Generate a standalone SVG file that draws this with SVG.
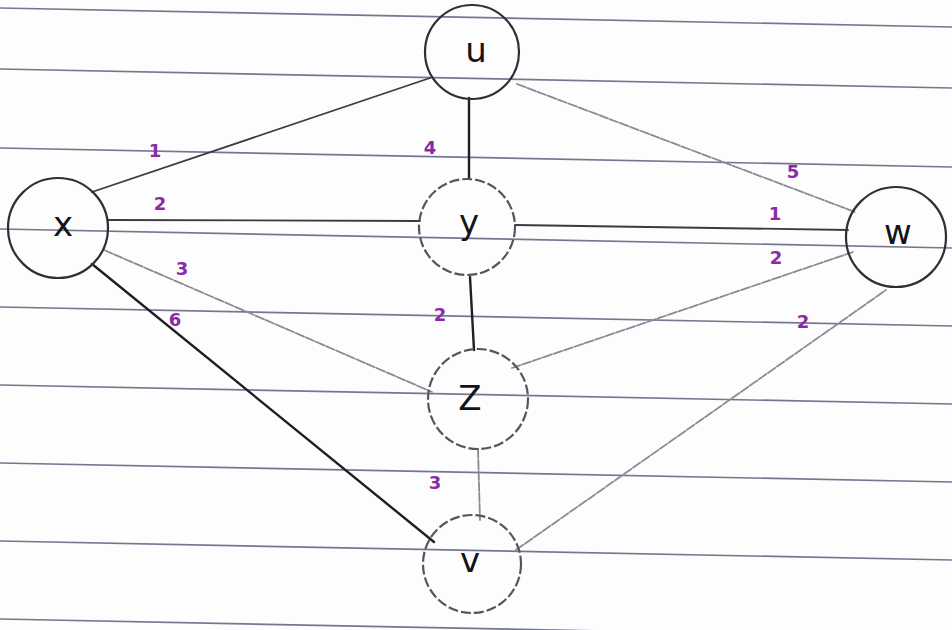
<svg xmlns="http://www.w3.org/2000/svg" width="952" height="630" viewBox="0 0 952 630">
<style>
.rule{stroke:#4b4a6e;stroke-width:1.7;opacity:0.75}
.e{fill:none;stroke-linecap:round}
.dark{stroke:#1e1e24;stroke-width:2.4}
.mid{stroke:#3a3a44;stroke-width:1.8}
.light{stroke:#8a8a94;stroke-width:1.8;stroke-dasharray:9 2}
.node circle{fill:none;stroke:#2e2e36;stroke-width:2.2}
.node.faint circle{stroke:#55555e;stroke-dasharray:10 3}
.node text{font-family:"DejaVu Sans","Liberation Sans",sans-serif;font-size:34px;fill:#141418;text-anchor:middle;dominant-baseline:central}
.lbl{font-family:"DejaVu Sans","Liberation Sans",sans-serif;font-size:18px;font-weight:bold;fill:#8a2aa8;text-anchor:middle;dominant-baseline:central}
</style>
<rect width="952" height="630" fill="#fdfdfd"/>
<g id="ruled-paper">
<line class="rule" x1="0" y1="8" x2="952" y2="27"/>
<line class="rule" x1="0" y1="69" x2="952" y2="88"/>
<line class="rule" x1="0" y1="148" x2="952" y2="167"/>
<line class="rule" x1="0" y1="229" x2="952" y2="248"/>
<line class="rule" x1="0" y1="307" x2="952" y2="326"/>
<line class="rule" x1="0" y1="385" x2="952" y2="404"/>
<line class="rule" x1="0" y1="463" x2="952" y2="482"/>
<line class="rule" x1="0" y1="541" x2="952" y2="560"/>
<line class="rule" x1="0" y1="619" x2="952" y2="638"/>
</g>
<g id="connectors">
<line class="e mid" x1="92" y1="192" x2="430" y2="78"/>
<line class="e mid" x1="108" y1="220" x2="420" y2="221"/>
<line class="e light" x1="104" y1="250" x2="432" y2="392"/>
<line class="e dark" x1="92" y1="264" x2="434" y2="542"/>
<line class="e dark" x1="469" y1="98" x2="469" y2="178"/>
<line class="e light" x1="517" y1="84" x2="855" y2="212"/>
<line class="e mid" x1="515" y1="225" x2="848" y2="230"/>
<line class="e dark" x1="470" y1="277" x2="474" y2="350"/>
<line class="e light" x1="512" y1="368" x2="853" y2="252"/>
<line class="e light" x1="478" y1="449" x2="480" y2="520"/>
<line class="e light" x1="516" y1="550" x2="886" y2="290"/>
</g>
<g id="edge-labels">
<text class="lbl" x="155" y="150">1</text>
<text class="lbl" x="160" y="203">2</text>
<text class="lbl" x="182" y="268">3</text>
<text class="lbl" x="175" y="319">6</text>
<text class="lbl" x="430" y="147">4</text>
<text class="lbl" x="793" y="171">5</text>
<text class="lbl" x="775" y="213">1</text>
<text class="lbl" x="776" y="257">2</text>
<text class="lbl" x="440" y="314">2</text>
<text class="lbl" x="803" y="321">2</text>
<text class="lbl" x="435" y="482">3</text>
</g>
<g id="node-u" class="node"><circle cx="472" cy="52" r="47"/><text x="476" y="50">u</text></g>
<g id="node-x" class="node"><circle cx="58" cy="228" r="50"/><text x="63" y="224">x</text></g>
<g id="node-y" class="node faint"><circle cx="467" cy="227" r="48"/><text x="469" y="222">y</text></g>
<g id="node-w" class="node"><circle cx="896" cy="237" r="50"/><text x="898" y="232">w</text></g>
<g id="node-z" class="node faint"><circle cx="478" cy="399" r="50"/><text x="470" y="398">Z</text></g>
<g id="node-v" class="node faint"><circle cx="472" cy="564" r="49"/><text x="470" y="560">v</text></g>
</svg>
